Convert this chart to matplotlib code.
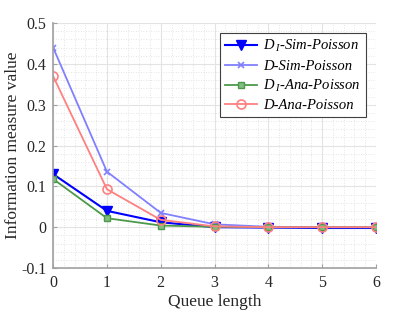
import matplotlib
matplotlib.use("Agg")
import matplotlib.pyplot as plt
from matplotlib.ticker import MultipleLocator

plt.rcParams['font.family'] = ['Liberation Serif', 'DejaVu Serif']
plt.rcParams['mathtext.fontset'] = 'custom'
plt.rcParams['mathtext.rm'] = 'Liberation Serif'
plt.rcParams['mathtext.it'] = 'Liberation Serif:italic'

queue = [0, 1, 2, 3, 4, 5, 6]
di_sim = [0.130, 0.040, 0.012, 0.000, -0.001, -0.002, -0.002]
d_sim = [0.440, 0.136, 0.035, 0.007, 0.001, 0.000, 0.000]
di_ana = [0.118, 0.022, 0.004, 0.001, 0.000, 0.000, 0.000]
d_ana = [0.370, 0.093, 0.018, 0.002, 0.000, 0.000, 0.000]

fig = plt.figure(figsize=(4.15, 3.12), dpi=100)
ax = fig.add_axes([0.128, 0.141, 0.778, 0.785])

ax.plot(queue, di_sim, '-v', color='#0000ff', lw=1.5, ms=6.5, mfc='#0000ff',
        label=r'$D_{\;I}$-Sim-Poisson')
ax.plot(queue, d_sim, '-x', color='#8080ff', lw=1.3, ms=5, mew=1.2,
        label='D-Sim-Poisson')
ax.plot(queue, di_ana, '-s', color='#4c994c', lw=1.3, ms=5, mfc='#7fbf7f',
        label=r'$D_{\;I}$-Ana-Poisson')
ax.plot(queue, d_ana, '-o', color='#ff8080', lw=1.3, ms=6.5, mfc='none', mew=1.2,
        label='D-Ana-Poisson')

ax.set_xlim(0, 6)
ax.set_ylim(-0.1, 0.5)
ax.xaxis.set_major_locator(MultipleLocator(1))
ax.xaxis.set_minor_locator(MultipleLocator(0.2))
ax.yaxis.set_major_locator(MultipleLocator(0.1))
ax.yaxis.set_minor_locator(MultipleLocator(0.02))
ax.set_yticks([-0.1, 0, 0.1, 0.2, 0.3, 0.4, 0.5])
ax.set_yticklabels(['-0.1', '0', '0.1', '0.2', '0.3', '0.4', '0.5'])

ax.grid(which='major', color='#e3e3e3', lw=0.8)
ax.grid(which='minor', color='#dcdcdc', lw=0.6, ls=(0, (1, 2)))
ax.set_axisbelow(True)

for s in ['top', 'right']:
    ax.spines[s].set_visible(False)
for s in ['left', 'bottom']:
    ax.spines[s].set_color('#a0a0a0')
    ax.spines[s].set_linewidth(1.2)
ax.tick_params(which='both', color='#a0a0a0', direction='in', labelsize=11.5,
               labelcolor='#262626', pad=5)
ax.tick_params(which='major', length=3)
ax.tick_params(which='minor', length=0)

ax.set_xlabel('Queue length', fontsize=12.5, color='#262626', labelpad=2)
ax.set_ylabel('Information measure value', fontsize=12.5, color='#262626')
ax.yaxis.set_label_coords(-0.1, 0.5)

leg = ax.legend(loc='upper right', bbox_to_anchor=(0.969, 0.959),
                borderaxespad=0,
                prop={'style': 'italic', 'size': 10.5}, fancybox=False,
                framealpha=1, edgecolor='#404040', handlelength=2.2,
                borderpad=0.35, labelspacing=0.35, handletextpad=0.45)
leg.get_frame().set_linewidth(0.8)

fig.savefig('out.png', dpi=100)
